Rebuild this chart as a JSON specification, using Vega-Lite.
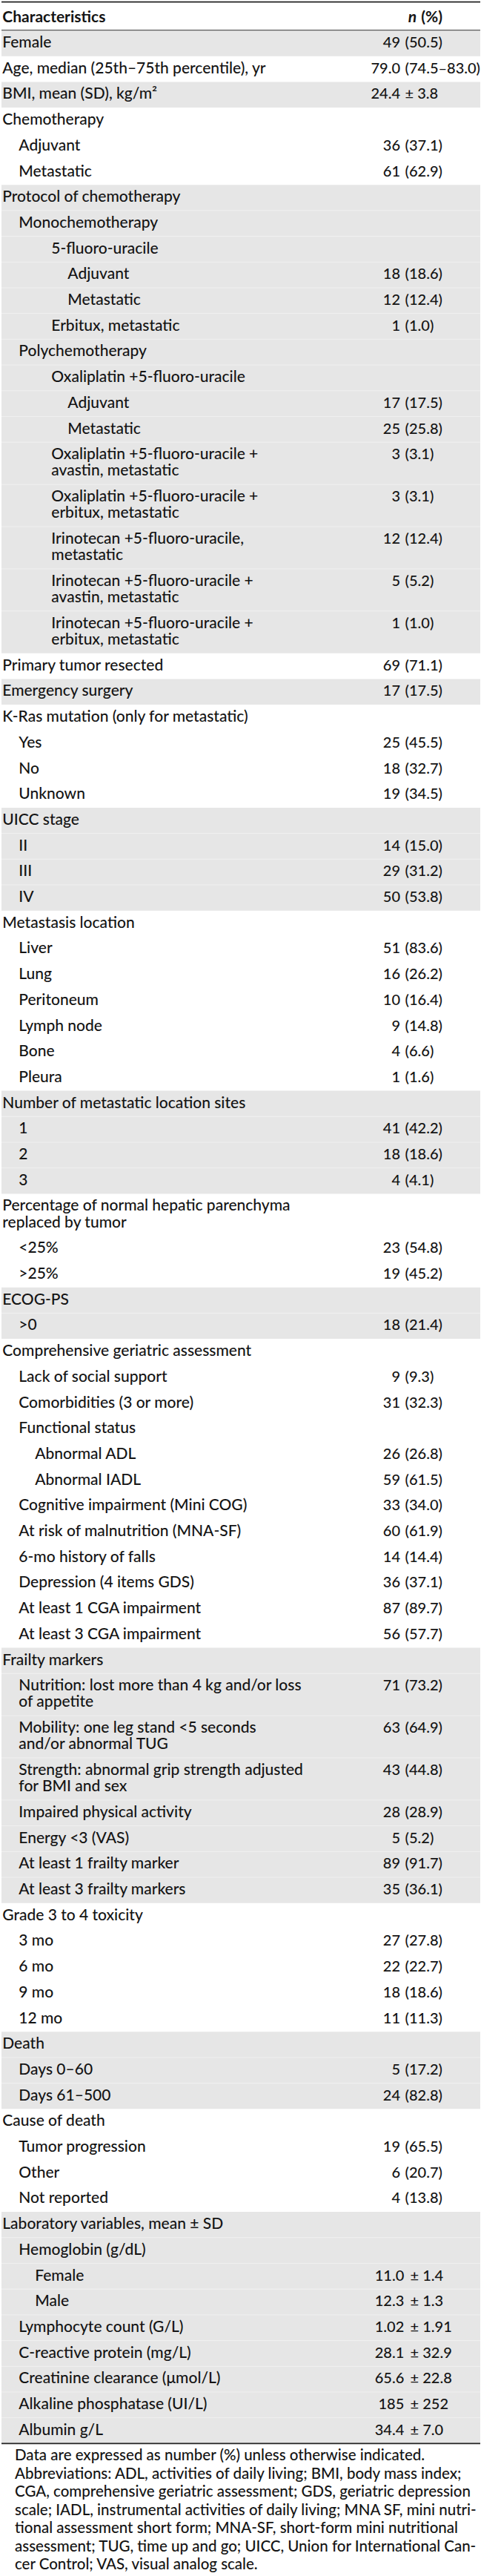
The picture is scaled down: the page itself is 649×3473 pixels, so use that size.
{
  "$schema": "https://vega.github.io/schema/vega-lite/v6.json",
  "width": 649,
  "height": 3473,
  "autosize": {"type": "none"},
  "padding": 0,
  "background": "white",
  "config": {"view": {"stroke": null}, "text": {"font": "Lato", "color": "#141414"}},
  "datasets": {
    "rows": [
      {"i": 1, "g": 1, "lv": 0, "label": "Female", "n": "49", "p": "(50.5)", "sec": "a"},
      {"i": 2, "g": 2, "lv": 0, "label": "Age, median (25th–75th percentile), yr", "n": "79.0", "p": "(74.5–83.0)", "sec": "a"},
      {"i": 3, "g": 3, "lv": 0, "label": "BMI, mean (SD), kg/m²", "n": "24.4", "p": "± 3.8", "sec": "a"},
      {"i": 4, "g": 4, "lv": 0, "label": "Chemotherapy", "n": "", "p": "", "sec": "a"},
      {"i": 5, "g": 4, "lv": 1, "label": "Adjuvant", "n": "36", "p": "(37.1)", "sec": "a"},
      {"i": 6, "g": 4, "lv": 1, "label": "Metastatic", "n": "61", "p": "(62.9)", "sec": "a"},
      {"i": 7, "g": 5, "lv": 0, "label": "Protocol of chemotherapy", "n": "", "p": "", "sec": "a"},
      {"i": 8, "g": 5, "lv": 1, "label": "Monochemotherapy", "n": "", "p": "", "sec": "a"},
      {"i": 9, "g": 5, "lv": 3, "label": "5-fluoro-uracile", "n": "", "p": "", "sec": "a"},
      {"i": 10, "g": 5, "lv": 4, "label": "Adjuvant", "n": "18", "p": "(18.6)", "sec": "a"},
      {"i": 11, "g": 5, "lv": 4, "label": "Metastatic", "n": "12", "p": "(12.4)", "sec": "a"},
      {"i": 12, "g": 5, "lv": 3, "label": "Erbitux, metastatic", "n": "1", "p": "(1.0)", "sec": "a"},
      {"i": 13, "g": 5, "lv": 1, "label": "Polychemotherapy", "n": "", "p": "", "sec": "a"},
      {"i": 14, "g": 5, "lv": 3, "label": "Oxaliplatin +5-fluoro-uracile", "n": "", "p": "", "sec": "a"},
      {"i": 15, "g": 5, "lv": 4, "label": "Adjuvant", "n": "17", "p": "(17.5)", "sec": "a"},
      {"i": 16, "g": 5, "lv": 4, "label": "Metastatic", "n": "25", "p": "(25.8)", "sec": "a"},
      {"i": 17, "g": 5, "lv": 3, "label": ["Oxaliplatin +5-fluoro-uracile +", "avastin, metastatic"], "n": "3", "p": "(3.1)", "sec": "a"},
      {"i": 18, "g": 5, "lv": 3, "label": ["Oxaliplatin +5-fluoro-uracile +", "erbitux, metastatic"], "n": "3", "p": "(3.1)", "sec": "a"},
      {"i": 19, "g": 5, "lv": 3, "label": ["Irinotecan +5-fluoro-uracile,", "metastatic"], "n": "12", "p": "(12.4)", "sec": "a"},
      {"i": 20, "g": 5, "lv": 3, "label": ["Irinotecan +5-fluoro-uracile +", "avastin, metastatic"], "n": "5", "p": "(5.2)", "sec": "a"},
      {"i": 21, "g": 5, "lv": 3, "label": ["Irinotecan +5-fluoro-uracile +", "erbitux, metastatic"], "n": "1", "p": "(1.0)", "sec": "a"},
      {"i": 22, "g": 6, "lv": 0, "label": "Primary tumor resected", "n": "69", "p": "(71.1)", "sec": "a"},
      {"i": 23, "g": 7, "lv": 0, "label": "Emergency surgery", "n": "17", "p": "(17.5)", "sec": "a"},
      {"i": 24, "g": 8, "lv": 0, "label": "K-Ras mutation (only for metastatic)", "n": "", "p": "", "sec": "a"},
      {"i": 25, "g": 8, "lv": 1, "label": "Yes", "n": "25", "p": "(45.5)", "sec": "a"},
      {"i": 26, "g": 8, "lv": 1, "label": "No", "n": "18", "p": "(32.7)", "sec": "a"},
      {"i": 27, "g": 8, "lv": 1, "label": "Unknown", "n": "19", "p": "(34.5)", "sec": "a"},
      {"i": 28, "g": 9, "lv": 0, "label": "UICC stage", "n": "", "p": "", "sec": "a"},
      {"i": 29, "g": 9, "lv": 1, "label": "II", "n": "14", "p": "(15.0)", "sec": "a"},
      {"i": 30, "g": 9, "lv": 1, "label": "III", "n": "29", "p": "(31.2)", "sec": "a"},
      {"i": 31, "g": 9, "lv": 1, "label": "IV", "n": "50", "p": "(53.8)", "sec": "a"},
      {"i": 32, "g": 10, "lv": 0, "label": "Metastasis location", "n": "", "p": "", "sec": "a"},
      {"i": 33, "g": 10, "lv": 1, "label": "Liver", "n": "51", "p": "(83.6)", "sec": "a"},
      {"i": 34, "g": 10, "lv": 1, "label": "Lung", "n": "16", "p": "(26.2)", "sec": "a"},
      {"i": 35, "g": 10, "lv": 1, "label": "Peritoneum", "n": "10", "p": "(16.4)", "sec": "a"},
      {"i": 36, "g": 10, "lv": 1, "label": "Lymph node", "n": "9", "p": "(14.8)", "sec": "a"},
      {"i": 37, "g": 10, "lv": 1, "label": "Bone", "n": "4", "p": "(6.6)", "sec": "a"},
      {"i": 38, "g": 10, "lv": 1, "label": "Pleura", "n": "1", "p": "(1.6)", "sec": "a"},
      {"i": 39, "g": 11, "lv": 0, "label": "Number of metastatic location sites", "n": "", "p": "", "sec": "a"},
      {"i": 40, "g": 11, "lv": 1, "label": "1", "n": "41", "p": "(42.2)", "sec": "a"},
      {"i": 41, "g": 11, "lv": 1, "label": "2", "n": "18", "p": "(18.6)", "sec": "a"},
      {"i": 42, "g": 11, "lv": 1, "label": "3", "n": "4", "p": "(4.1)", "sec": "a"},
      {"i": 43, "g": 12, "lv": 0, "label": ["Percentage of normal hepatic parenchyma", "replaced by tumor"], "n": "", "p": "", "sec": "a"},
      {"i": 44, "g": 12, "lv": 1, "label": "<25%", "n": "23", "p": "(54.8)", "sec": "a"},
      {"i": 45, "g": 12, "lv": 1, "label": ">25%", "n": "19", "p": "(45.2)", "sec": "a"},
      {"i": 46, "g": 13, "lv": 0, "label": "ECOG-PS", "n": "", "p": "", "sec": "a"},
      {"i": 47, "g": 13, "lv": 1, "label": ">0", "n": "18", "p": "(21.4)", "sec": "a"},
      {"i": 48, "g": 14, "lv": 0, "label": "Comprehensive geriatric assessment", "n": "", "p": "", "sec": "a"},
      {"i": 49, "g": 14, "lv": 1, "label": "Lack of social support", "n": "9", "p": "(9.3)", "sec": "a"},
      {"i": 50, "g": 14, "lv": 1, "label": "Comorbidities (3 or more)", "n": "31", "p": "(32.3)", "sec": "a"},
      {"i": 51, "g": 14, "lv": 1, "label": "Functional status", "n": "", "p": "", "sec": "a"},
      {"i": 52, "g": 14, "lv": 2, "label": "Abnormal ADL", "n": "26", "p": "(26.8)", "sec": "a"},
      {"i": 53, "g": 14, "lv": 2, "label": "Abnormal IADL", "n": "59", "p": "(61.5)", "sec": "a"},
      {"i": 54, "g": 14, "lv": 1, "label": "Cognitive impairment (Mini COG)", "n": "33", "p": "(34.0)", "sec": "a"},
      {"i": 55, "g": 14, "lv": 1, "label": "At risk of malnutrition (MNA-SF)", "n": "60", "p": "(61.9)", "sec": "a"},
      {"i": 56, "g": 14, "lv": 1, "label": "6-mo history of falls", "n": "14", "p": "(14.4)", "sec": "a"},
      {"i": 57, "g": 14, "lv": 1, "label": "Depression (4 items GDS)", "n": "36", "p": "(37.1)", "sec": "a"},
      {"i": 58, "g": 14, "lv": 1, "label": "At least 1 CGA impairment", "n": "87", "p": "(89.7)", "sec": "a"},
      {"i": 59, "g": 14, "lv": 1, "label": "At least 3 CGA impairment", "n": "56", "p": "(57.7)", "sec": "a"},
      {"i": 60, "g": 15, "lv": 0, "label": "Frailty markers", "n": "", "p": "", "sec": "a"},
      {"i": 61, "g": 15, "lv": 1, "label": ["Nutrition: lost more than 4 kg and/or loss", "of appetite"], "n": "71", "p": "(73.2)", "sec": "a"},
      {"i": 62, "g": 15, "lv": 1, "label": ["Mobility: one leg stand <5 seconds", "and/or abnormal TUG"], "n": "63", "p": "(64.9)", "sec": "a"},
      {"i": 63, "g": 15, "lv": 1, "label": ["Strength: abnormal grip strength adjusted", "for BMI and sex"], "n": "43", "p": "(44.8)", "sec": "a"},
      {"i": 64, "g": 15, "lv": 1, "label": "Impaired physical activity", "n": "28", "p": "(28.9)", "sec": "a"},
      {"i": 65, "g": 15, "lv": 1, "label": "Energy <3 (VAS)", "n": "5", "p": "(5.2)", "sec": "a"},
      {"i": 66, "g": 15, "lv": 1, "label": "At least 1 frailty marker", "n": "89", "p": "(91.7)", "sec": "a"},
      {"i": 67, "g": 15, "lv": 1, "label": "At least 3 frailty markers", "n": "35", "p": "(36.1)", "sec": "a"},
      {"i": 68, "g": 16, "lv": 0, "label": "Grade 3 to 4 toxicity", "n": "", "p": "", "sec": "a"},
      {"i": 69, "g": 16, "lv": 1, "label": "3 mo", "n": "27", "p": "(27.8)", "sec": "a"},
      {"i": 70, "g": 16, "lv": 1, "label": "6 mo", "n": "22", "p": "(22.7)", "sec": "a"},
      {"i": 71, "g": 16, "lv": 1, "label": "9 mo", "n": "18", "p": "(18.6)", "sec": "a"},
      {"i": 72, "g": 16, "lv": 1, "label": "12 mo", "n": "11", "p": "(11.3)", "sec": "a"},
      {"i": 73, "g": 17, "lv": 0, "label": "Death", "n": "", "p": "", "sec": "a"},
      {"i": 74, "g": 17, "lv": 1, "label": "Days 0–60", "n": "5", "p": "(17.2)", "sec": "a"},
      {"i": 75, "g": 17, "lv": 1, "label": "Days 61–500", "n": "24", "p": "(82.8)", "sec": "a"},
      {"i": 76, "g": 18, "lv": 0, "label": "Cause of death", "n": "", "p": "", "sec": "a"},
      {"i": 77, "g": 18, "lv": 1, "label": "Tumor progression", "n": "19", "p": "(65.5)", "sec": "a"},
      {"i": 78, "g": 18, "lv": 1, "label": "Other", "n": "6", "p": "(20.7)", "sec": "a"},
      {"i": 79, "g": 18, "lv": 1, "label": "Not reported", "n": "4", "p": "(13.8)", "sec": "a"},
      {"i": 80, "g": 19, "lv": 0, "label": "Laboratory variables, mean ± SD", "n": "", "p": "", "sec": "lab"},
      {"i": 81, "g": 19, "lv": 1, "label": "Hemoglobin (g/dL)", "n": "", "p": "", "sec": "lab"},
      {"i": 82, "g": 19, "lv": 2, "label": "Female", "n": "11.0", "p": "± 1.4", "sec": "lab"},
      {"i": 83, "g": 19, "lv": 2, "label": "Male", "n": "12.3", "p": "± 1.3", "sec": "lab"},
      {"i": 84, "g": 19, "lv": 1, "label": "Lymphocyte count (G/L)", "n": "1.02", "p": "± 1.91", "sec": "lab"},
      {"i": 85, "g": 19, "lv": 1, "label": "C-reactive protein (mg/L)", "n": "28.1", "p": "± 32.9", "sec": "lab"},
      {"i": 86, "g": 19, "lv": 1, "label": "Creatinine clearance (μmol/L)", "n": "65.6", "p": "± 22.8", "sec": "lab"},
      {"i": 87, "g": 19, "lv": 1, "label": "Alkaline phosphatase (UI/L)", "n": "185", "p": "± 252", "sec": "lab"},
      {"i": 88, "g": 19, "lv": 1, "label": "Albumin g/L", "n": "34.4", "p": "± 7.0", "sec": "lab"}
    ],
    "notes": [
      {"ln": 1, "t": "Data are expressed as number (%) unless otherwise indicated."},
      {"ln": 2, "t": "Abbreviations: ADL, activities of daily living; BMI, body mass index;"},
      {"ln": 3, "t": "CGA, comprehensive geriatric assessment; GDS, geriatric depression"},
      {"ln": 4, "t": "scale; IADL, instrumental activities of daily living; MNA SF, mini nutri-"},
      {"ln": 5, "t": "tional assessment short form; MNA-SF, short-form mini nutritional"},
      {"ln": 6, "t": "assessment; TUG, time up and go; UICC, Union for International Can-"},
      {"ln": 7, "t": "cer Control; VAS, visual analog scale."}
    ]
  },
  "layer": [
    {
      "data": {"name": "rows"},
      "transform": [
        {"calculate": "isArray(datum.label) ? length(datum.label) : 1", "as": "lines"},
        {"calculate": "12.5 + 22.2 * datum.lines", "as": "h"},
        {"window": [{"op": "sum", "field": "h", "as": "cum"}], "sort": [{"field": "i", "order": "ascending"}], "frame": [null, 0]},
        {"calculate": "41 + datum.cum", "as": "y1"},
        {"calculate": "datum.y1 - datum.h", "as": "y0"},
        {"calculate": "datum.y0 + 23", "as": "ty"},
        {"calculate": "3.3 + 22 * datum.lv", "as": "lx"},
        {"calculate": "datum.sec == 'lab' ? 545.3 : 540", "as": "nx"},
        {"calculate": "datum.sec == 'lab' ? 553.6 : 546.6", "as": "px"},
        {"window": [{"op": "row_number", "as": "k"}], "groupby": ["g"], "sort": [{"field": "i", "order": "ascending"}]}
      ],
      "layer": [
        {
          "transform": [{"filter": "datum.g % 2 == 1"}],
          "mark": {"type": "rect", "color": "#e6e6e6"},
          "encoding": {
            "x": {"datum": 2, "type": "quantitative", "scale": {"domain": [0, 649], "nice": false, "zero": false}, "axis": null},
            "x2": {"datum": 648},
            "y": {"field": "y0", "type": "quantitative", "scale": {"domain": [0, 3473], "nice": false, "zero": false, "reverse": true}, "axis": null},
            "y2": {"field": "y1"}
          }
        },
        {
          "transform": [{"filter": "datum.g % 2 == 1 && datum.k > 1"}],
          "mark": {"type": "rule", "color": "#f0f0f0", "strokeWidth": 1},
          "encoding": {
            "x": {"datum": 2, "type": "quantitative", "scale": {"domain": [0, 649], "nice": false, "zero": false}, "axis": null},
            "x2": {"datum": 648},
            "y": {"field": "y0", "type": "quantitative", "scale": {"domain": [0, 3473], "nice": false, "zero": false, "reverse": true}, "axis": null}
          }
        },
        {
          "mark": {"type": "text", "align": "left", "baseline": "alphabetic", "fontSize": 21, "fontWeight": 500, "lineHeight": 22.2},
          "encoding": {
            "x": {"field": "lx", "type": "quantitative", "scale": {"domain": [0, 649], "nice": false, "zero": false}, "axis": null},
            "y": {"field": "ty", "type": "quantitative", "scale": {"domain": [0, 3473], "nice": false, "zero": false, "reverse": true}, "axis": null},
            "text": {"field": "label"}
          }
        },
        {
          "transform": [{"filter": "datum.n != ''"}],
          "mark": {"type": "text", "align": "right", "baseline": "alphabetic", "fontSize": 20, "fontWeight": 500},
          "encoding": {
            "x": {"field": "nx", "type": "quantitative", "scale": {"domain": [0, 649], "nice": false, "zero": false}, "axis": null},
            "y": {"field": "ty", "type": "quantitative", "scale": {"domain": [0, 3473], "nice": false, "zero": false, "reverse": true}, "axis": null},
            "text": {"field": "n"}
          }
        },
        {
          "transform": [{"filter": "datum.p != ''"}],
          "mark": {"type": "text", "align": "left", "baseline": "alphabetic", "fontSize": 20, "fontWeight": 500},
          "encoding": {
            "x": {"field": "px", "type": "quantitative", "scale": {"domain": [0, 649], "nice": false, "zero": false}, "axis": null},
            "y": {"field": "ty", "type": "quantitative", "scale": {"domain": [0, 3473], "nice": false, "zero": false, "reverse": true}, "axis": null},
            "text": {"field": "p"}
          }
        },
        {
          "transform": [{"filter": "datum.i == 88"}],
          "mark": {"type": "rule", "color": "#222222", "strokeWidth": 1.7},
          "encoding": {
            "x": {"datum": 2, "type": "quantitative", "scale": {"domain": [0, 649], "nice": false, "zero": false}, "axis": null},
            "x2": {"datum": 648},
            "y": {"field": "y1", "type": "quantitative", "scale": {"domain": [0, 3473], "nice": false, "zero": false, "reverse": true}, "axis": null}
          }
        }
      ]
    },
    {
      "data": {"values": [{"c": "Characteristics", "n": "n", "pc": "(%)"}]},
      "layer": [
        {
          "mark": {"type": "rule", "color": "#222222", "strokeWidth": 1.7},
          "encoding": {
            "x": {"datum": 2, "type": "quantitative", "scale": {"domain": [0, 649], "nice": false, "zero": false}, "axis": null},
            "x2": {"datum": 648},
            "y": {"datum": 2.7, "type": "quantitative", "scale": {"domain": [0, 3473], "nice": false, "zero": false, "reverse": true}, "axis": null}
          }
        },
        {
          "mark": {"type": "rule", "color": "#333333", "strokeWidth": 1},
          "encoding": {
            "x": {"datum": 2, "type": "quantitative", "scale": {"domain": [0, 649], "nice": false, "zero": false}, "axis": null},
            "x2": {"datum": 648},
            "y": {"datum": 40.7, "type": "quantitative", "scale": {"domain": [0, 3473], "nice": false, "zero": false, "reverse": true}, "axis": null}
          }
        },
        {
          "mark": {"type": "text", "align": "left", "baseline": "alphabetic", "fontSize": 21, "fontWeight": "bold"},
          "encoding": {
            "x": {"datum": 3.3, "type": "quantitative", "scale": {"domain": [0, 649], "nice": false, "zero": false}, "axis": null},
            "y": {"datum": 30, "type": "quantitative", "scale": {"domain": [0, 3473], "nice": false, "zero": false, "reverse": true}, "axis": null},
            "text": {"field": "c"}
          }
        },
        {
          "mark": {"type": "text", "align": "right", "baseline": "alphabetic", "fontSize": 21, "fontWeight": "bold", "fontStyle": "italic"},
          "encoding": {
            "x": {"datum": 562, "type": "quantitative", "scale": {"domain": [0, 649], "nice": false, "zero": false}, "axis": null},
            "y": {"datum": 30, "type": "quantitative", "scale": {"domain": [0, 3473], "nice": false, "zero": false, "reverse": true}, "axis": null},
            "text": {"field": "n"}
          }
        },
        {
          "mark": {"type": "text", "align": "right", "baseline": "alphabetic", "fontSize": 21, "fontWeight": "bold"},
          "encoding": {
            "x": {"datum": 597, "type": "quantitative", "scale": {"domain": [0, 649], "nice": false, "zero": false}, "axis": null},
            "y": {"datum": 30, "type": "quantitative", "scale": {"domain": [0, 3473], "nice": false, "zero": false, "reverse": true}, "axis": null},
            "text": {"field": "pc"}
          }
        }
      ]
    },
    {
      "data": {"name": "notes"},
      "transform": [{"calculate": "3317.3 + 24.45 * (datum.ln - 1)", "as": "ny"}],
      "mark": {"type": "text", "align": "left", "baseline": "alphabetic", "fontSize": 20.5, "fontWeight": 500},
      "encoding": {
        "x": {"datum": 20, "type": "quantitative", "scale": {"domain": [0, 649], "nice": false, "zero": false}, "axis": null},
        "y": {"field": "ny", "type": "quantitative", "scale": {"domain": [0, 3473], "nice": false, "zero": false, "reverse": true}, "axis": null},
        "text": {"field": "t"}
      }
    }
  ]
}
